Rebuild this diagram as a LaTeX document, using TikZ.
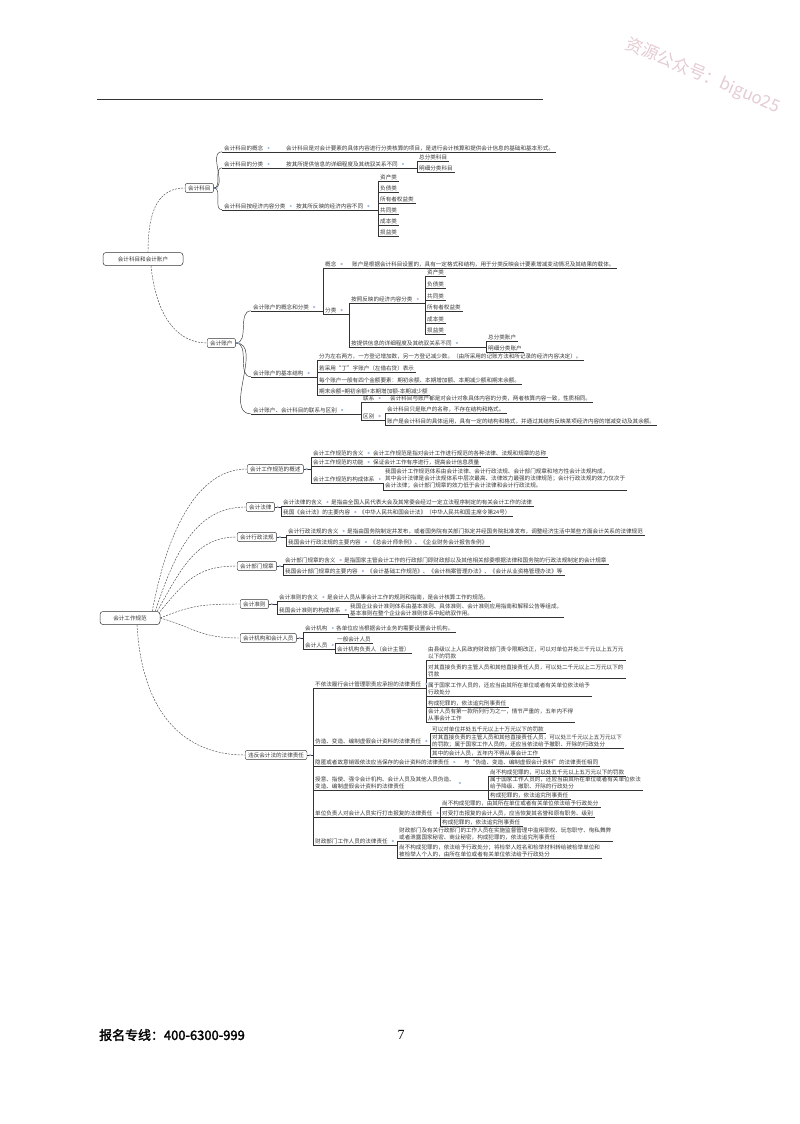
\documentclass[tikz,border=0pt]{standalone}
\usepackage{fontspec}
\setmainfont{Noto Sans CJK SC}
\newfontfamily\serifnum{Liberation Serif}
\newfontfamily\boldcjk[FakeBold=2]{Noto Sans CJK SC}
\usetikzlibrary{calc}
\definecolor{txt}{gray}{0.22}
\definecolor{dotc}{rgb}{0.64,0.72,0.86}
\definecolor{wmc}{rgb}{0.90,0.80,0.82}
\tikzset{
 ln/.style={draw=black!80, line width=0.45bp},
 base/.style={anchor=west, inner xsep=2bp, inner ysep=1bp, font=\fontsize{5.6}{7}\selectfont, text=txt, align=left},
 u/.style={base, append after command={(\tikzlastnode.south west) edge[ln] (\tikzlastnode.south east)}},
 topic/.style={base, draw=black!80, line width=0.45bp, rounded corners=2bp, inner xsep=3bp, inner ysep=2bp},
 rootbox/.style={base, anchor=center, draw=black!80, line width=0.5bp, rounded corners=3bp},
 conn/.style={draw=black!70, line width=0.45bp, dash pattern=on 2bp off 1.2bp},
 dotm/.style={circle, fill=dotc, inner sep=0pt, minimum size=2.4bp},
}
\newcommand\brk[4]{%
 \draw[ln] (#1.#2) -- (#3.south west |- #1.#2);
 \draw[ln] (#3.south west) -- (#4.south west);
 \node[dotm] at ([xshift=3bp]#1.east) {};}
\newcommand\lnk[3]{%
 \draw[ln] (#1.#2) -- (#3.south west |- #1.#2) -- (#3.south west);
 \node[dotm] at ([xshift=3bp]#1.east) {};}
\begin{document}
\begin{tikzpicture}[x=1bp,y=-1bp]
\fill[white] (0,0) rectangle (800,1124);
\useasboundingbox (0,0) rectangle (800,1124);

% header rule, watermark, footer
\coordinate (h1) at (97,99);
\coordinate (h2) at (543,99);
\draw[black!80, line width=0.8bp] (h1) -- (h2);
\node[rotate=-23, text=wmc, font=\fontsize{17}{19}\selectfont] (wm) at (703,76) {资源公众号：biguo25};
\node[anchor=west, inner sep=0pt, font=\boldcjk\fontsize{13}{15}\selectfont] (ft) at (99,1035) {报名专线：400-6300-999};
\node[inner sep=0pt, font=\serifnum\fontsize{14}{16}\selectfont] (pg) at (401,1035) {7};

%% ===== Section 1 =====
\node[rootbox, minimum width=80bp, minimum height=13bp] (R1) at (143,259) {会计科目和会计账户};

\node[topic] (A) at (185,188) {会计科目};
\node[u] (A1) at (222,148) {会计科目的概念};
\node[u] (A1t) at (284,148) {会计科目是对会计要素的具体内容进行分类核算的项目，是进行会计核算和提供会计信息的基础和基本形式。};
\node[u] (A2) at (222,164) {会计科目的分类};
\node[u] (A2t) at (284,164) {按其所提供信息的详细程度及其统驭关系不同};
\node[u] (A2a) at (417,157) {总分类科目};
\node[u] (A2b) at (417,168) {明细分类科目};
\node[u] (A3) at (222,206) {会计科目按经济内容分类};
\node[u] (A3t) at (294,206) {按其所反映的经济内容不同};
\node[u] (A3a) at (378,177) {资产类};
\node[u] (A3b) at (378,188) {负债类};
\node[u] (A3c) at (378,199) {所有者权益类};
\node[u] (A3d) at (378,210) {共同类};
\node[u] (A3e) at (378,221) {成本类};
\node[u] (A3f) at (378,232) {损益类};

\draw[conn] ([xshift=5bp]R1.north) .. controls +(0,-45) and +(-25,0) .. (A.west);
\draw[ln] (A.east) to[out=0,in=180] (A1.south west);
\draw[ln] (A.east) to[out=0,in=180] (A2.south west);
\draw[ln] (A.east) to[out=0,in=180] (A3.south west);
\node[dotm] at ([xshift=3bp]A.east) {};
\lnk{A1}{south east}{A1t}
\lnk{A2}{south east}{A2t}
\brk{A2t}{south east}{A2a}{A2b}
\lnk{A3}{south east}{A3t}
\brk{A3t}{south east}{A3a}{A3f}

%% ===== Section 2 =====
\node[topic] (B) at (207,343) {会计账户};
\node[u] (B1) at (251,307) {会计账户的概念和分类};
\node[u] (B1a) at (323,264) {概念};
\node[u] (B1at) at (350,264) {账户是根据会计科目设置的，具有一定格式和结构，用于分类反映会计要素增减变动情况及其结果的载体。};
\node[u] (B1b) at (323,310) {分类};
\node[u] (B1b1) at (349,299) {按照反映的经济内容分类};
\node[u] (k1) at (425,272) {资产类};
\node[u] (k2) at (425,284) {负债类};
\node[u] (k3) at (425,296) {共同类};
\node[u] (k4) at (425,307) {所有者权益类};
\node[u] (k5) at (425,319) {成本类};
\node[u] (k6) at (425,330) {损益类};
\node[u] (B1b2) at (349,343) {按提供信息的详细程度及其统驭关系不同};
\node[u] (m1) at (486,337) {总分类账户};
\node[u] (m2) at (486,348) {明细分类账户};
\node[u] (B2) at (251,373) {会计账户的基本结构};
\node[u] (B2a) at (317,356) {分为左右两方，一方登记增加数，另一方登记减少数。（由所采用的记账方法和所记录的经济内容决定）。};
\node[u] (B2b) at (317,368) {若采用“丁”字账户（左借右贷）表示};
\node[u] (B2c) at (317,380) {每个账户一般有四个金额要素：期初余额、本期增加额、本期减少额和期末余额。};
\node[u] (B2d) at (317,391) {期末余额=期初余额+本期增加额-本期减少额};
\node[u] (B3) at (251,410) {会计账户、会计科目的联系与区别};
\node[u] (B3a) at (361,398) {联系};
\node[u] (B3at) at (388,398) {会计科目与账户都是对会计对象具体内容的分类，两者核算内容一致，性质相同。};
\node[u] (B3b) at (361,416) {区别};
\node[u] (B3b1) at (385,409) {会计科目只是账户的名称，不存在结构和格式。};
\node[u] (B3b2) at (385,421) {账户是会计科目的具体运用，具有一定的结构和格式，并通过其结构反映某项经济内容的增减变动及其余额。};

\draw[conn] ([xshift=8bp]R1.south) .. controls +(5,50) and +(-30,0) .. (B.west);
\draw[ln] (B.east) to[out=0,in=180] (B1.south west);
\draw[ln] (B.east) to[out=0,in=180] (B2.south west);
\draw[ln] (B.east) to[out=0,in=180] (B3.south west);
\node[dotm] at ([xshift=3bp]B.east) {};
\brk{B1}{south east}{B1a}{B1b}
\lnk{B1a}{south east}{B1at}
\brk{B1b}{south east}{B1b1}{B1b2}
\brk{B1b1}{south east}{k1}{k6}
\brk{B1b2}{south east}{m1}{m2}
\brk{B2}{south east}{B2a}{B2d}
\brk{B3}{south east}{B3a}{B3b}
\lnk{B3a}{south east}{B3at}
\brk{B3b}{south east}{B3b1}{B3b2}

%% ===== Section 3 =====
\node[rootbox, minimum width=60bp, minimum height=13bp] (R3) at (130,618) {会计工作规范};

\node[topic] (C1) at (247,469) {会计工作规范的概述};
\node[u] (C1a) at (311,453) {会计工作规范的含义};
\node[u] (C1at) at (371,453) {会计工作规范是指对会计工作进行规范的各种法律、法规和规章的总称};
\node[u] (C1b) at (311,462) {会计工作规范的功能};
\node[u] (C1bt) at (371,462) {保证会计工作有序进行，提高会计信息质量};
\node[u] (C1c) at (311,479) {会计工作规范的构成体系};
\node[u] (C1ct) at (383,479) {我国会计工作规范体系由会计法律、会计行政法规、会计部门规章和地方性会计法规构成，\\其中会计法律是会计法规体系中层次最高、法律效力最强的法律规范；会计行政法规的效力仅次于\\会计法律；会计部门规章的效力低于会计法律和会计行政法规。};

\node[topic] (C2) at (246,507) {会计法律};
\node[u] (C2a) at (281,502) {会计法律的含义};
\node[u] (C2at) at (329,502) {是指由全国人民代表大会及其常委会经过一定立法程序制定的有关会计工作的法律};
\node[u] (C2b) at (281,512) {我国《会计法》的主要内容};
\node[u] (C2bt) at (357,512) {《中华人民共和国会计法》（中华人民共和国主席令第24号）};

\node[topic] (C3) at (237,537) {会计行政法规};
\node[u] (C3a) at (286,531) {会计行政法规的含义};
\node[u] (C3at) at (345,531) {是指由国务院制定并发布，或者国务院有关部门拟定并经国务院批准发布，调整经济生活中某些方面会计关系的法律规范};
\node[u] (C3b) at (286,542) {我国会计行政法规的主要内容};
\node[u] (C3bt) at (368,542) {《总会计师条例》、《企业财务会计报告条例》};

\node[topic] (C4) at (237,566) {会计部门规章};
\node[u] (C4a) at (283,560) {会计部门规章的含义};
\node[u] (C4at) at (342,560) {是指国家主管会计工作的行政部门即财政部以及其他相关部委根据法律和国务院的行政法规制定的会计规章};
\node[u] (C4b) at (283,571) {我国会计部门规章的主要内容};
\node[u] (C4bt) at (365,571) {《会计基础工作规范》、《会计档案管理办法》、《会计从业资格管理办法》等};

\node[topic] (C5) at (240,604) {会计准则};
\node[u] (C5a) at (277,597) {会计准则的含义};
\node[u] (C5at) at (325,597) {是会计人员从事会计工作的规则和指南，是会计核算工作的规范。};
\node[u] (C5b) at (277,610) {我国会计准则的构成体系};
\node[u] (C5bt) at (348,610) {我国企业会计准则体系由基本准则、具体准则、会计准则应用指南和解释公告等组成，\\基本准则在整个企业会计准则体系中起统驭作用。};

\node[topic] (C6) at (240,638) {会计机构和会计人员};
\node[u] (C6a) at (303,628) {会计机构};
\node[u] (C6at) at (334,628) {各单位应当根据会计业务的需要设置会计机构。};
\node[u] (C6b) at (303,645) {会计人员};
\node[u] (C6b1) at (335,639) {一般会计人员};
\node[u] (C6b2) at (335,649) {会计机构负责人（会计主管）};

\node[topic] (C7) at (245,755) {违反会计法的法律责任};
\node[u] (D1) at (313,684) {不依法履行会计管理职责应承担的法律责任};
\node[u] (d11) at (426,653) {由县级以上人民政府财政部门责令限期改正，可以对单位并处三千元以上五万元\\以下的罚款};
\node[u] (d12) at (426,671) {对其直接负责的主管人员和其他直接责任人员，可以处二千元以上二万元以下的\\罚款};
\node[u] (d13) at (426,689) {属于国家工作人员的，还应当由其所在单位或者有关单位依法给予\\行政处分};
\node[u] (d14) at (426,703) {构成犯罪的，依法追究刑事责任};
\node[u] (d15) at (426,715) {会计人员有第一款所列行为之一，情节严重的，五年内不得\\从事会计工作};
\node[u] (D2) at (313,741) {伪造、变造、编制虚假会计资料的法律责任};
\node[u] (d21) at (430,729) {可以对单位并处五千元以上十万元以下的罚款};
\node[u] (d22) at (430,741) {对其直接负责的主管人员和其他直接责任人员，可以处三千元以上五万元以下\\的罚款；属于国家工作人员的，还应当依法给予撤职、开除的行政处分};
\node[u] (d23) at (430,753) {其中的会计人员，五年内不得从事会计工作};
\node[u] (D3) at (313,762) {隐匿或者故意销毁依法应当保存的会计资料的法律责任};
\node[u] (D3t) at (462,762) {与“伪造、变造、编制虚假会计资料”的法律责任相同};
\node[u] (D4) at (313,783) {授意、指使、强令会计机构、会计人员及其他人员伪造、\\变造、编制虚假会计资料的法律责任};
\node[u] (d41) at (488,772) {尚不构成犯罪的，可以处五千元以上五万元以下的罚款};
\node[u] (d42) at (488,783) {属于国家工作人员的，还应当由其所在单位或者有关单位依法\\给予降级、撤职、开除的行政处分};
\node[u] (d43) at (488,795) {构成犯罪的，依法追究刑事责任};
\node[u] (D5) at (313,813) {单位负责人对会计人员实行打击报复的法律责任};
\node[u] (d51) at (440,803) {尚不构成犯罪的，由其所在单位或者有关单位依法给予行政处分};
\node[u] (d52) at (440,813) {对受打击报复的会计人员，应当恢复其名誉和原有职务、级别};
\node[u] (d53) at (440,822) {构成犯罪的，依法追究刑事责任};
\node[u] (D6) at (313,841) {财政部门工作人员的法律责任};
\node[u] (d61) at (397,834) {财政部门及有关行政部门的工作人员在实施监督管理中滥用职权、玩忽职守、徇私舞弊\\或者泄露国家秘密、商业秘密，构成犯罪的，依法追究刑事责任};
\node[u] (d62) at (397,851) {尚不构成犯罪的，依法给予行政处分；将检举人姓名和检举材料转给被检举单位和\\被检举人个人的，由所在单位或者有关单位依法给予行政处分};

% root connectors
\draw[conn] ([xshift=-8bp]R3.north east) .. controls +(15,-80) and +(-50,0) .. (C1.west);
\draw[conn] ([xshift=-5bp]R3.north east) .. controls +(20,-60) and +(-50,0) .. (C2.west);
\draw[conn] ([xshift=-3bp]R3.north east) .. controls +(25,-45) and +(-40,0) .. (C3.west);
\draw[conn] (R3.north east) .. controls +(25,-30) and +(-40,0) .. (C4.west);
\draw[conn] (R3.east) .. controls +(30,-12) and +(-40,0) .. (C5.west);
\draw[conn] (R3.east) .. controls +(35,10) and +(-40,0) .. (C6.west);
\draw[conn] ([xshift=7bp]R3.south) .. controls +(5,90) and +(-60,0) .. (C7.west);

% section 3 brackets
\brk{C1}{east}{C1a}{C1c}
\lnk{C1a}{south east}{C1at}
\lnk{C1b}{south east}{C1bt}
\lnk{C1c}{south east}{C1ct}
\brk{C2}{east}{C2a}{C2b}
\lnk{C2a}{south east}{C2at}
\lnk{C2b}{south east}{C2bt}
\brk{C3}{east}{C3a}{C3b}
\lnk{C3a}{south east}{C3at}
\lnk{C3b}{south east}{C3bt}
\brk{C4}{east}{C4a}{C4b}
\lnk{C4a}{south east}{C4at}
\lnk{C4b}{south east}{C4bt}
\brk{C5}{east}{C5a}{C5b}
\lnk{C5a}{south east}{C5at}
\lnk{C5b}{south east}{C5bt}
\brk{C6}{east}{C6a}{C6b}
\lnk{C6a}{south east}{C6at}
\brk{C6b}{south east}{C6b1}{C6b2}
\brk{C7}{east}{D1}{D6}
\brk{D1}{south east}{d11}{d15}
\brk{D2}{south east}{d21}{d23}
\lnk{D3}{south east}{D3t}
\brk{D4}{south east}{d41}{d43}
\brk{D5}{south east}{d51}{d53}
\brk{D6}{south east}{d61}{d62}
\end{tikzpicture}
\end{document}
